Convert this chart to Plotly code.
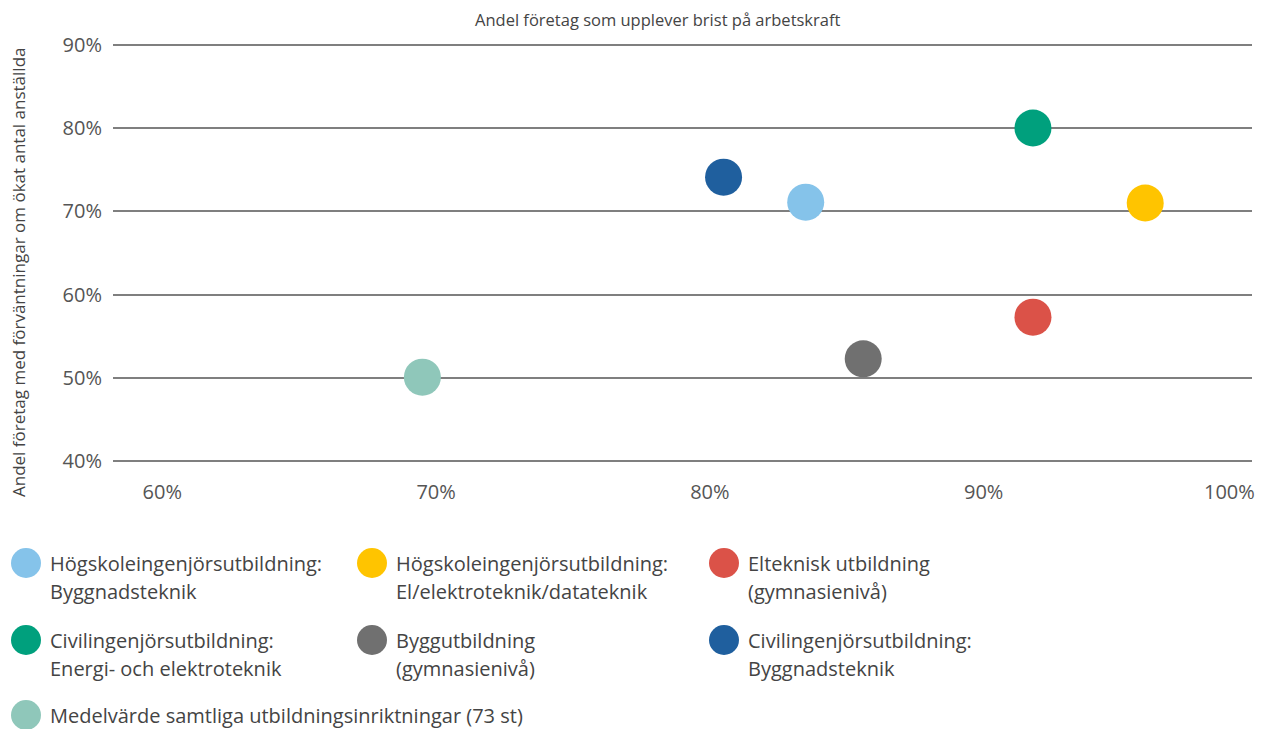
import plotly.graph_objects as go

# ---------------- data ----------------
series_names = [
    "Högskoleingenjörsutbildning: Byggnadsteknik",
    "Högskoleingenjörsutbildning: El/elektroteknik/datateknik",
    "Elteknisk utbildning (gymnasienivå)",
    "Civilingenjörsutbildning: Energi- och elektroteknik",
    "Byggutbildning (gymnasienivå)",
    "Civilingenjörsutbildning: Byggnadsteknik",
    "Medelvärde samtliga utbildningsinriktningar (73 st)",
]
legend_lines = [
    ["Högskoleingenjörsutbildning:", "Byggnadsteknik"],
    ["Högskoleingenjörsutbildning:", "El/elektroteknik/datateknik"],
    ["Elteknisk utbildning", "(gymnasienivå)"],
    ["Civilingenjörsutbildning:", "Energi- och elektroteknik"],
    ["Byggutbildning", "(gymnasienivå)"],
    ["Civilingenjörsutbildning:", "Byggnadsteknik"],
    ["Medelvärde samtliga utbildningsinriktningar (73 st)"],
]
shortage = [0.835, 0.959, 0.918, 0.918, 0.856, 0.805, 0.695]      # x
expect_hire = [0.711, 0.710, 0.573, 0.800, 0.523, 0.741, 0.501]   # y
colors = ["#85C3EA", "#FFC400", "#DB5248", "#00A07D", "#707070", "#1F5F9E", "#8FC7BA"]

x_tickvals = [0.6, 0.7, 0.8, 0.9]
x_ticktext = ["60%", "70%", "80%", "90%"]
y_tickvals = [0.4, 0.5, 0.6, 0.7, 0.8, 0.9]
y_ticktext = ["40%", "50%", "60%", "70%", "80%", "90%"]

x_title = "Andel företag som upplever brist på arbetskraft"
y_title = "Andel företag med förväntningar om ökat antal anställda"

# ---------------- layout geometry ----------------
OFF = 8                      # default page body margin
W, H = 1270 - OFF, 729 - OFF
ML, MR, MT, MB = 113 - OFF, 18, 43 - OFF, 266
PW = W - ML - MR
PH = H - MT - MB


def px(xp):  # page pixel -> paper x
    return (xp - OFF - ML) / PW


def py(yp):  # page pixel -> paper y
    return (H - MB - (yp - OFF)) / PH


FONT = "Open Sans, Noto Sans, sans-serif"
TXT = "#555555"
LEG = "#444444"

fig = go.Figure()
for name, xv, yv, c in zip(series_names, shortage, expect_hire, colors):
    fig.add_trace(go.Scatter(
        x=[xv], y=[yv], mode="markers", name=name,
        marker=dict(size=37, color=c, line=dict(width=0)),
        showlegend=False,
        hovertemplate=name + "<br>%{x:.0%} / %{y:.0%}<extra></extra>",
    ))

annotations = []
shapes = []

# top (x-axis) title
annotations.append(dict(
    text=x_title, xref="paper", yref="paper", x=px(658), y=py(20),
    xanchor="center", yanchor="middle", showarrow=False,
    font=dict(family=FONT, size=16.5, color="#444444"),
))
# y-axis title
annotations.append(dict(
    text=y_title, xref="paper", yref="paper", x=px(18), y=py(273),
    xanchor="center", yanchor="middle", showarrow=False, textangle=-90,
    font=dict(family=FONT, size=17, color="#444444"),
))
# 100% label at right end of axis
annotations.append(dict(
    text="100%", xref="paper", yref="paper", x=1, y=py(491),
    xanchor="right", yanchor="middle", xshift=5, showarrow=False,
    font=dict(family=FONT, size=20, color=TXT),
))

# custom legend (3 columns)
col_x = [26, 372, 724]
row_y = [563, 640, 715]
for i, (lines, c) in enumerate(zip(legend_lines, colors)):
    r, k = divmod(i, 3)
    cx, cy = col_x[k], row_y[r]
    shapes.append(dict(
        type="circle", xref="paper", yref="paper",
        xsizemode="pixel", ysizemode="pixel",
        xanchor=px(cx), yanchor=py(cy),
        x0=-15, x1=15, y0=-15, y1=15,
        fillcolor=c, line=dict(width=0), layer="above",
    ))
    for j, t in enumerate(lines):
        annotations.append(dict(
            text=t, xref="paper", yref="paper",
            x=px(cx + 22), y=py(cy + j * 28),
            xanchor="left", yanchor="middle", showarrow=False,
            font=dict(family=FONT, size=20, color=LEG),
        ))

fig.update_layout(
    width=W, height=H,
    margin=dict(l=ML, r=MR, t=MT, b=MB, pad=0),
    paper_bgcolor="white", plot_bgcolor="white",
    font=dict(family=FONT, size=20, color=TXT),
    showlegend=False,
    annotations=annotations, shapes=shapes,
    xaxis=dict(
        range=[0.582, 0.998], tickvals=x_tickvals, ticktext=x_ticktext,
        showgrid=False, zeroline=False, showline=False,
        ticks="outside", ticklen=11, tickcolor="rgba(0,0,0,0)",
        tickfont=dict(family=FONT, size=20, color=TXT),
    ),
    yaxis=dict(
        range=[0.398, 0.902], tickvals=y_tickvals, ticktext=y_ticktext,
        showgrid=True, gridcolor="#7f7f7f", gridwidth=1.5,
        zeroline=False, showline=False,
        ticks="outside", ticklen=6, tickcolor="rgba(0,0,0,0)",
        tickfont=dict(family=FONT, size=20, color=TXT),
    ),
)

fig.write_html("out.html")
